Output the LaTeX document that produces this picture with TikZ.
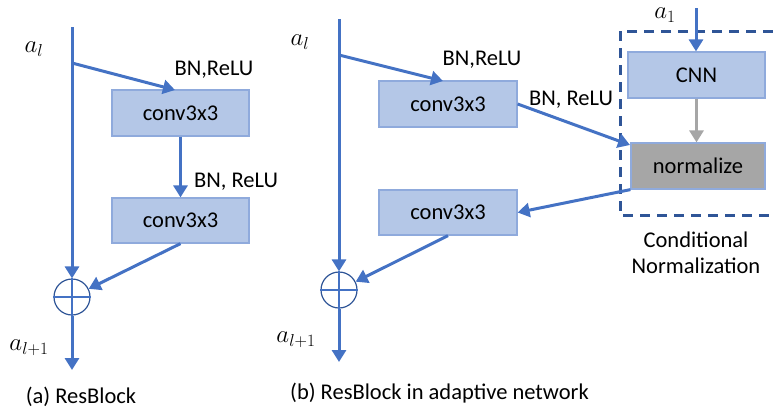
\documentclass[tikz,border=0pt]{standalone}
\usepackage{fontspec}
\setmainfont{Carlito}
\usetikzlibrary{arrows.meta}
\definecolor{lineblue}{HTML}{4472C4}
\definecolor{boxfill}{HTML}{B4C7E7}
\definecolor{boxedge}{HTML}{8FAADC}
\definecolor{darkblue}{HTML}{2F5597}
\definecolor{arrowgray}{HTML}{A6A6A6}
\begin{document}
\begin{tikzpicture}
[x=1pt,y=-1pt,font=\fontsize{22.5}{27}\selectfont,
  boxdecorate/.style={shape=rectangle,draw=boxedge,line width=1.2pt,fill=boxfill,
    minimum width=137pt,minimum height=46pt,inner sep=0pt},%
  sumdecorate/.style={shape=circle,draw=darkblue,line width=1.2pt,fill=white,
    minimum size=36pt,inner sep=0pt},%
  linedecorate/.style={-{Triangle[length=12pt,width=14pt]},draw=lineblue,line width=3pt},%
  mathlabel/.style={font=\fontsize{25}{30}\selectfont,inner sep=0pt}]
\useasboundingbox (0,0) rectangle (773,410);
% (a) nodes
\coordinate (topa) at (72,27);
\coordinate (splita) at (72,63);
\coordinate (enda) at (72,370);
\coordinate (ina) at (175,90);
\node (conva1) at (180.5,113) [boxdecorate] {conv3x3};
\node (conva2) at (180.5,220.5) [boxdecorate,minimum height=45pt] {conv3x3};
\node (suma) at (72,297) [sumdecorate] {};
\draw [lineblue,line width=1.2pt] (suma.north) -- (suma.south) (suma.west) -- (suma.east);
\node [mathlabel] at (34,49) {$a_l$};
\node [mathlabel] at (29,348) {$a_{l+1}$};
\node at (214,70) {BN,ReLU};
\node at (236,182) {BN, ReLU};
\node at (81,397) {(a) ResBlock};
% (a) edges
\path
(topa) edge[linedecorate] (suma.north)
(splita) edge[linedecorate] (ina)
(conva1.south) edge[linedecorate] (conva2.north)
(conva2.south) edge[linedecorate] (suma)
(suma.south) edge[linedecorate] (enda);
% (b) nodes
\coordinate (topb) at (339,19);
\coordinate (splitb) at (339,55);
\coordinate (endb) at (339,362);
\coordinate (inb) at (443,81);
\coordinate (ina1) at (696,8);
\coordinate (innorm) at (630,145);
\node (convb1) at (448,104) [boxdecorate,minimum width=138pt] {conv3x3};
\node (convb2) at (448,212.5) [boxdecorate,minimum width=138pt,minimum height=45pt] {conv3x3};
\node (sumb) at (339,290) [sumdecorate] {};
\draw [lineblue,line width=1.2pt] (sumb.north) -- (sumb.south) (sumb.west) -- (sumb.east);
\node (cnn) at (696.5,75) [boxdecorate] {CNN};
\node (norm) at (698,166) [boxdecorate,fill=arrowgray,minimum width=134pt] {normalize};
\draw [darkblue,line width=3pt,dash pattern=on 10pt off 7pt]
  (773,31) -- (620,31) -- (620,215) -- (773,215);
\node [mathlabel] at (300,42) {$a_l$};
\node [mathlabel] at (296,340) {$a_{l+1}$};
\node [mathlabel] at (665,15) {$a_1$};
\node at (482,60) {BN,ReLU};
\node at (571,100) {BN, ReLU};
\node at (696,240) {Conditional};
\node at (696,266) {Normalization};
\node at (439.5,393) {(b) ResBlock in adaptive network};
% (b) edges
\path
(topb) edge[linedecorate] (sumb.north)
(splitb) edge[linedecorate] (inb)
(convb1.east) edge[linedecorate] (innorm)
(norm.south west) edge[linedecorate] (convb2.east)
(convb2.south) edge[linedecorate] (sumb)
(sumb.south) edge[linedecorate] (endb)
(ina1) edge[linedecorate] (ina1 |- cnn.north)
(cnn.south) edge[linedecorate,draw=arrowgray] (cnn.south |- norm.north);
\end{tikzpicture}
\end{document}
